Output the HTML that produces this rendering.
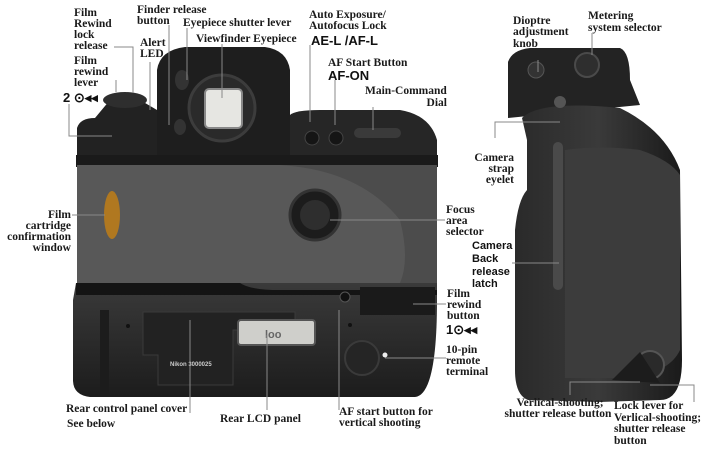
<!DOCTYPE html>
<html><head><meta charset="utf-8"><style>
html,body{margin:0;padding:0;background:#fff;}
svg{display:block;}
.t{font-family:"Liberation Serif",serif;font-weight:bold;font-size:11.5px;fill:#1a1a1a;}
.s{font-family:"Liberation Sans",sans-serif;font-weight:bold;fill:#111;}
.l{stroke:#888;stroke-width:1;fill:none;}
</style></head><body>
<svg width="721" height="451" viewBox="0 0 721 451" xmlns="http://www.w3.org/2000/svg">
<defs>
<linearGradient id="gb" x1="0" y1="0" x2="0" y2="1"><stop offset="0" stop-color="#3a3a3a"/><stop offset="1" stop-color="#1c1c1c"/></linearGradient>
<linearGradient id="sv" x1="0" y1="0" x2="1" y2="0"><stop offset="0" stop-color="#2a2a2a"/><stop offset="0.5" stop-color="#3a3a3a"/><stop offset="1" stop-color="#1a1a1a"/></linearGradient>
</defs>
<path d="M77,160 L77,128 Q80,118 95,118 L110,100 Q125,92 140,100 L157,110 L157,160 Z" fill="#222"/>
<ellipse cx="125" cy="100" rx="22" ry="8" fill="#2e2e2e"/>
<path d="M157,155 L157,70 Q160,50 185,47 L265,47 Q287,50 290,70 L290,155 Z" fill="#1e1e1e"/>
<circle cx="222" cy="108" r="33" fill="#2a2a2a" stroke="#3c3c3c" stroke-width="3"/>
<rect x="205" y="89" width="37" height="39" rx="4" fill="#e6e6e2" stroke="#888" stroke-width="2"/>
<ellipse cx="182" cy="80" rx="7" ry="10" fill="#333"/>
<ellipse cx="180" cy="127" rx="6" ry="8" fill="#333"/>
<path d="M290,160 L290,115 Q295,110 320,110 L400,110 Q430,115 437,140 L437,160 Z" fill="#262626"/>
<circle cx="312" cy="138" r="7" fill="#151515" stroke="#444"/>
<circle cx="336" cy="138" r="7" fill="#151515" stroke="#444"/>
<rect x="354" y="128" width="47" height="10" rx="5" fill="#3a3a3a"/>
<rect x="76" y="155" width="362" height="12" fill="#1a1a1a"/>
<rect x="77" y="165" width="360" height="118" fill="#585858"/>
<path d="M280,165 Q360,170 400,220 Q410,260 400,283 L437,283 L437,165 Z" fill="#4c4c4c"/>
<ellipse cx="112" cy="215" rx="8" ry="24" fill="#b07820"/>
<circle cx="315" cy="215" r="25" fill="#1c1c1c" stroke="#333" stroke-width="3"/>
<circle cx="315" cy="215" r="15" fill="#2e2e2e"/>
<path d="M76,283 L437,283 L437,300 Q437,395 415,397 L90,397 Q73,395 73,380 L73,300 Z" fill="url(#gb)"/>
<path d="M76,283 L240,283 Q250,290 280,290 L437,290 L437,295 L76,295 Z" fill="#141414"/>
<rect x="360" y="287" width="75" height="28" fill="#1a1a1a"/>
<rect x="100" y="310" width="9" height="85" fill="#1c1c1c"/>
<path d="M143,312 L295,312 L295,330 L233,330 L233,385 L158,385 L158,355 L143,355 Z" fill="#222" stroke="#3a3a3a"/>
<rect x="238" y="320" width="77" height="25" rx="3" fill="#cfcfcb" stroke="#555" stroke-width="2"/>
<text x="265" y="338" class="s" font-size="11" style="fill:#666">loo</text>
<text x="170" y="366" class="s" font-size="6" style="fill:#ccc">Nikon 3000025</text>
<circle cx="362" cy="358" r="17" fill="#252525" stroke="#3a3a3a" stroke-width="2"/>
<circle cx="345" cy="297" r="5" fill="#111" stroke="#555"/>
<circle cx="128" cy="326" r="2" fill="#111"/>
<circle cx="350" cy="325" r="2" fill="#111"/>
<circle cx="385" cy="355" r="2.5" fill="#eee"/>
<!-- SIDE VIEW -->
<path d="M508,112 L508,62 Q512,50 530,48 L620,48 Q630,52 630,80 L640,105 L508,118 Z" fill="#232323"/>
<circle cx="536" cy="70" r="8" fill="#333" stroke="#555"/>
<circle cx="587" cy="65" r="12" fill="#2e2e2e" stroke="#4a4a4a" stroke-width="2"/>
<path d="M522,118 Q540,100 620,108 Q665,130 680,170 L682,360 Q682,400 660,400 L600,402 L528,400 Q515,395 515,370 L515,230 Q518,200 527,190 L527,140 Z" fill="url(#sv)"/>
<path d="M565,150 Q600,145 640,150 Q670,160 680,175 L680,350 Q670,372 630,378 L565,378 Z" fill="#3c3c3c"/>
<rect x="553" y="142" width="10" height="148" rx="5" fill="#4a4a4a"/>
<circle cx="560" cy="102" r="6" fill="#555"/>
<circle cx="650" cy="365" r="14" fill="#2a2a2a" stroke="#555" stroke-width="2"/>
<path d="M612,380 L640,352 L660,383 Z" fill="#1c1c1c"/>
<!-- LEADER LINES -->
<path class="l" d="M114,47 H133 V93"/>
<path class="l" d="M150,62 V110"/>
<path class="l" d="M169,25 V125"/>
<path class="l" d="M187,28 V80"/>
<path class="l" d="M222,44 V98"/>
<path class="l" d="M116,80 V92"/>
<path class="l" d="M69,104 V136 H112"/>
<path class="l" d="M310,45 V122"/>
<path class="l" d="M335,80 V125"/>
<path class="l" d="M373,107 V130"/>
<path class="l" d="M72,215 H105"/>
<path class="l" d="M330,220 H445"/>
<path class="l" d="M413,304 H446"/>
<path class="l" d="M385,358 H446"/>
<path class="l" d="M190,320 V413"/>
<path class="l" d="M267,335 V410"/>
<path class="l" d="M339,310 V410"/>
<path class="l" d="M538,60 V72"/>
<path class="l" d="M592,33 V55"/>
<path class="l" d="M495,138 V122 H560"/>
<path class="l" d="M512,263 H559"/>
<path class="l" d="M570,395 V382 H640"/>
<path class="l" d="M694,402 V385 H650"/>
<!-- LABELS -->
<text class="t" x="74" y="16">Film</text>
<text class="t" x="74" y="27">Rewind</text>
<text class="t" x="74" y="38">lock</text>
<text class="t" x="74" y="49">release</text>
<text class="t" x="137" y="13">Finder release</text>
<text class="t" x="137" y="24">button</text>
<text class="t" x="183" y="26">Eyepiece shutter lever</text>
<text class="t" x="196" y="42">Viewfinder Eyepiece</text>
<text class="t" x="140" y="46">Alert</text>
<text class="t" x="140" y="57">LED</text>
<text class="t" x="74" y="64">Film</text>
<text class="t" x="74" y="75">rewind</text>
<text class="t" x="74" y="86">lever</text>
<text class="s" x="63" y="102" font-size="13">2 ⊙◂◂</text>
<text class="t" x="309" y="18">Auto Exposure/</text>
<text class="t" x="309" y="29">Autofocus Lock</text>
<text class="s" x="311" y="45" font-size="13">AE-L /AF-L</text>
<text class="t" x="328" y="66">AF Start Button</text>
<text class="s" x="328" y="80" font-size="13">AF-ON</text>
<text class="t" x="365" y="94">Main-Command</text>
<text class="t" x="447" y="106" text-anchor="end">Dial</text>
<text class="t" x="71" y="218" text-anchor="end">Film</text>
<text class="t" x="71" y="229" text-anchor="end">cartridge</text>
<text class="t" x="71" y="240" text-anchor="end">confirmation</text>
<text class="t" x="71" y="251" text-anchor="end">window</text>
<text class="t" x="446" y="213">Focus</text>
<text class="t" x="446" y="224">area</text>
<text class="t" x="446" y="235">selector</text>
<text class="s" x="472" y="249" font-size="11">Camera</text>
<text class="s" x="472" y="262" font-size="11">Back</text>
<text class="s" x="472" y="275" font-size="11">release</text>
<text class="s" x="472" y="287" font-size="11">latch</text>
<text class="t" x="447" y="297">Film</text>
<text class="t" x="447" y="308">rewind</text>
<text class="t" x="447" y="319">button</text>
<text class="s" x="446" y="334" font-size="13">1⊙◂◂</text>
<text class="t" x="446" y="353">10-pin</text>
<text class="t" x="446" y="364">remote</text>
<text class="t" x="446" y="375">terminal</text>
<text class="t" x="66" y="412">Rear control panel cover</text>
<text class="t" x="67" y="427">See below</text>
<text class="t" x="220" y="422">Rear LCD panel</text>
<text class="t" x="339" y="415">AF start button for</text>
<text class="t" x="339" y="426">vertical shooting</text>
<text class="t" x="513" y="24">Dioptre</text>
<text class="t" x="513" y="35">adjustment</text>
<text class="t" x="513" y="47">knob</text>
<text class="t" x="588" y="19">Metering</text>
<text class="t" x="588" y="31">system selector</text>
<text class="t" x="514" y="161" text-anchor="end">Camera</text>
<text class="t" x="514" y="172" text-anchor="end">strap</text>
<text class="t" x="514" y="183" text-anchor="end">eyelet</text>
<text class="t" x="560" y="406" text-anchor="middle">Verlical-shooting;</text>
<text class="t" x="558" y="417" text-anchor="middle">shutter release button</text>
<text class="t" x="614" y="409">Lock lever for</text>
<text class="t" x="614" y="421">Verlical-shooting;</text>
<text class="t" x="614" y="432">shutter release</text>
<text class="t" x="614" y="444">button</text>
</svg>
</body></html>
